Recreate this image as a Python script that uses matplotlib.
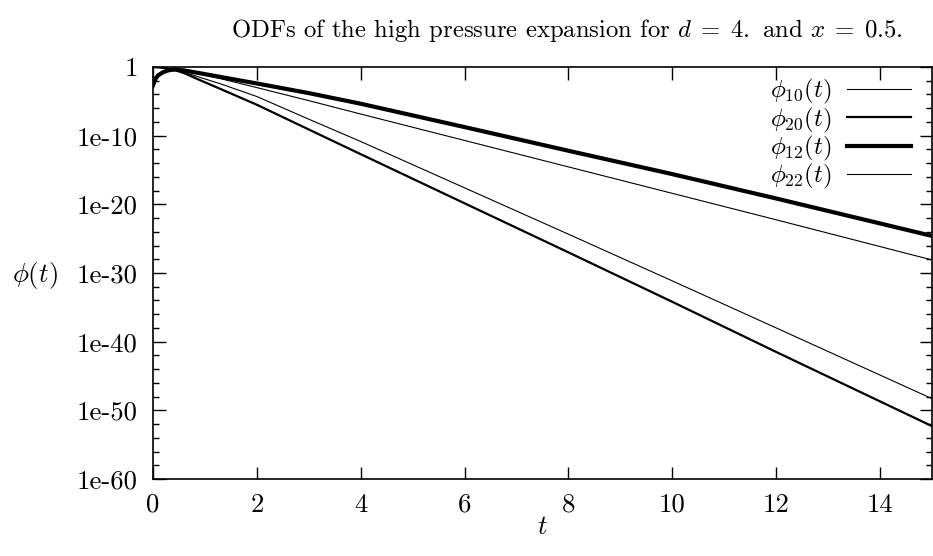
import matplotlib
matplotlib.use('Agg')
import matplotlib.pyplot as plt
from matplotlib.ticker import FixedLocator, FixedFormatter, NullFormatter

plt.rcParams['font.family'] = 'serif'
plt.rcParams['font.serif'] = ['cmr10']
plt.rcParams['mathtext.fontset'] = 'cm'
plt.rcParams['axes.unicode_minus'] = False

# ---- data ----
t = [0, 0.05, 0.1, 0.2, 0.3, 0.42, 0.6, 0.9, 1.3, 2, 3, 4, 6, 8, 10, 12, 15]
phi10 = [1.0, 0.933, 0.871, 0.724, 0.562, 0.398, 0.240, 8.91e-2, 2.00e-2, 1.00e-3,
         1.26e-5, 1.41e-7, 2.0e-11, 2.82e-15, 3.98e-19, 5.62e-23, 7.94e-29]
phi20 = [1.0, 0.977, 0.912, 0.759, 0.562, 0.355, 0.126, 1.26e-2, 6.31e-4, 3.16e-6,
         7.94e-10, 2.0e-13, 1.41e-20, 1.0e-27, 6.31e-35, 3.16e-42, 5.01e-53]
phi12 = [2.14e-3, 2.0e-2, 6.31e-2, 0.186, 0.331, 0.437, 0.316, 0.126, 3.55e-2, 3.98e-3,
         1.58e-4, 4.47e-6, 1.78e-9, 6.31e-13, 2.51e-16, 7.08e-20, 2.51e-25]
phi22 = [1.0, 0.977, 0.933, 0.794, 0.603, 0.380, 0.178, 3.16e-2, 3.55e-3, 5.01e-5,
         2.51e-8, 1.41e-11, 2.51e-18, 4.47e-25, 7.08e-32, 1.0e-38, 5.01e-49]

labels = [r'$\phi_{10}(t)$', r'$\phi_{20}(t)$', r'$\phi_{12}(t)$', r'$\phi_{22}(t)$']
xticks = [0, 2, 4, 6, 8, 10, 12, 14]
yticks = [1e-60, 1e-50, 1e-40, 1e-30, 1e-20, 1e-10, 1]
yticklabels = ['1e-60', '1e-50', '1e-40', '1e-30', '1e-20', '1e-10', '1']
yminor = [10.0 ** (-k) for k in range(2, 60, 2) if k % 10 != 0]

FS = 19.3

fig = plt.figure(figsize=(9.33, 5.56), dpi=100)
ax = fig.add_axes([153 / 933, 77 / 556, 779 / 933, 412 / 556])

ax.plot(t, phi10, color='black', lw=0.8, label=labels[0])
ax.plot(t, phi20, color='black', lw=1.6, label=labels[1])
ax.plot(t, phi12, color='black', lw=3.0, label=labels[2])
ax.plot(t, phi22, color='black', lw=0.8, label=labels[3])

ax.set_yscale('log')
ax.set_xlim(0, 15)
ax.set_ylim(1e-60, 1)

ax.xaxis.set_major_locator(FixedLocator(xticks))
ax.xaxis.set_major_formatter(FixedFormatter([str(v) for v in xticks]))
ax.yaxis.set_major_locator(FixedLocator(yticks))
ax.yaxis.set_major_formatter(FixedFormatter(yticklabels))
ax.yaxis.set_minor_locator(FixedLocator(yminor))
ax.yaxis.set_minor_formatter(NullFormatter())

ax.tick_params(which='major', direction='in', length=9, width=1.0,
               top=True, right=True, labelsize=FS, pad=11)
ax.tick_params(axis='x', which='major', pad=10)
ax.tick_params(which='minor', direction='in', length=4.5, width=1.0,
               top=True, right=True)
ax.tick_params(axis='x', which='minor', length=0)
for s in ax.spines.values():
    s.set_linewidth(1.2)

ax.set_xlabel(r'$t$', fontsize=FS, va='center')
ax.xaxis.set_label_coords(0.4994, -0.118)
ax.set_ylabel(r'$\phi(t)$', fontsize=FS, rotation=0, ha='center', va='center')
ax.yaxis.set_label_coords(-0.152, 0.495)

fig.text(567 / 933, 1 - 30 / 556,
         r'ODFs of the high pressure expansion for $d\;=\;4.$ and $x\;=\;0.5$.',
         fontsize=17.8, ha='center', va='center')

leg = ax.legend(loc='upper right', bbox_to_anchor=(758 / 779, 0.975),
                markerfirst=False, frameon=False, fontsize=18,
                handlelength=2.55, handletextpad=0.6, labelspacing=-0.03,
                borderaxespad=0.0, borderpad=0.0)

fig.savefig('out.png', dpi=100)
